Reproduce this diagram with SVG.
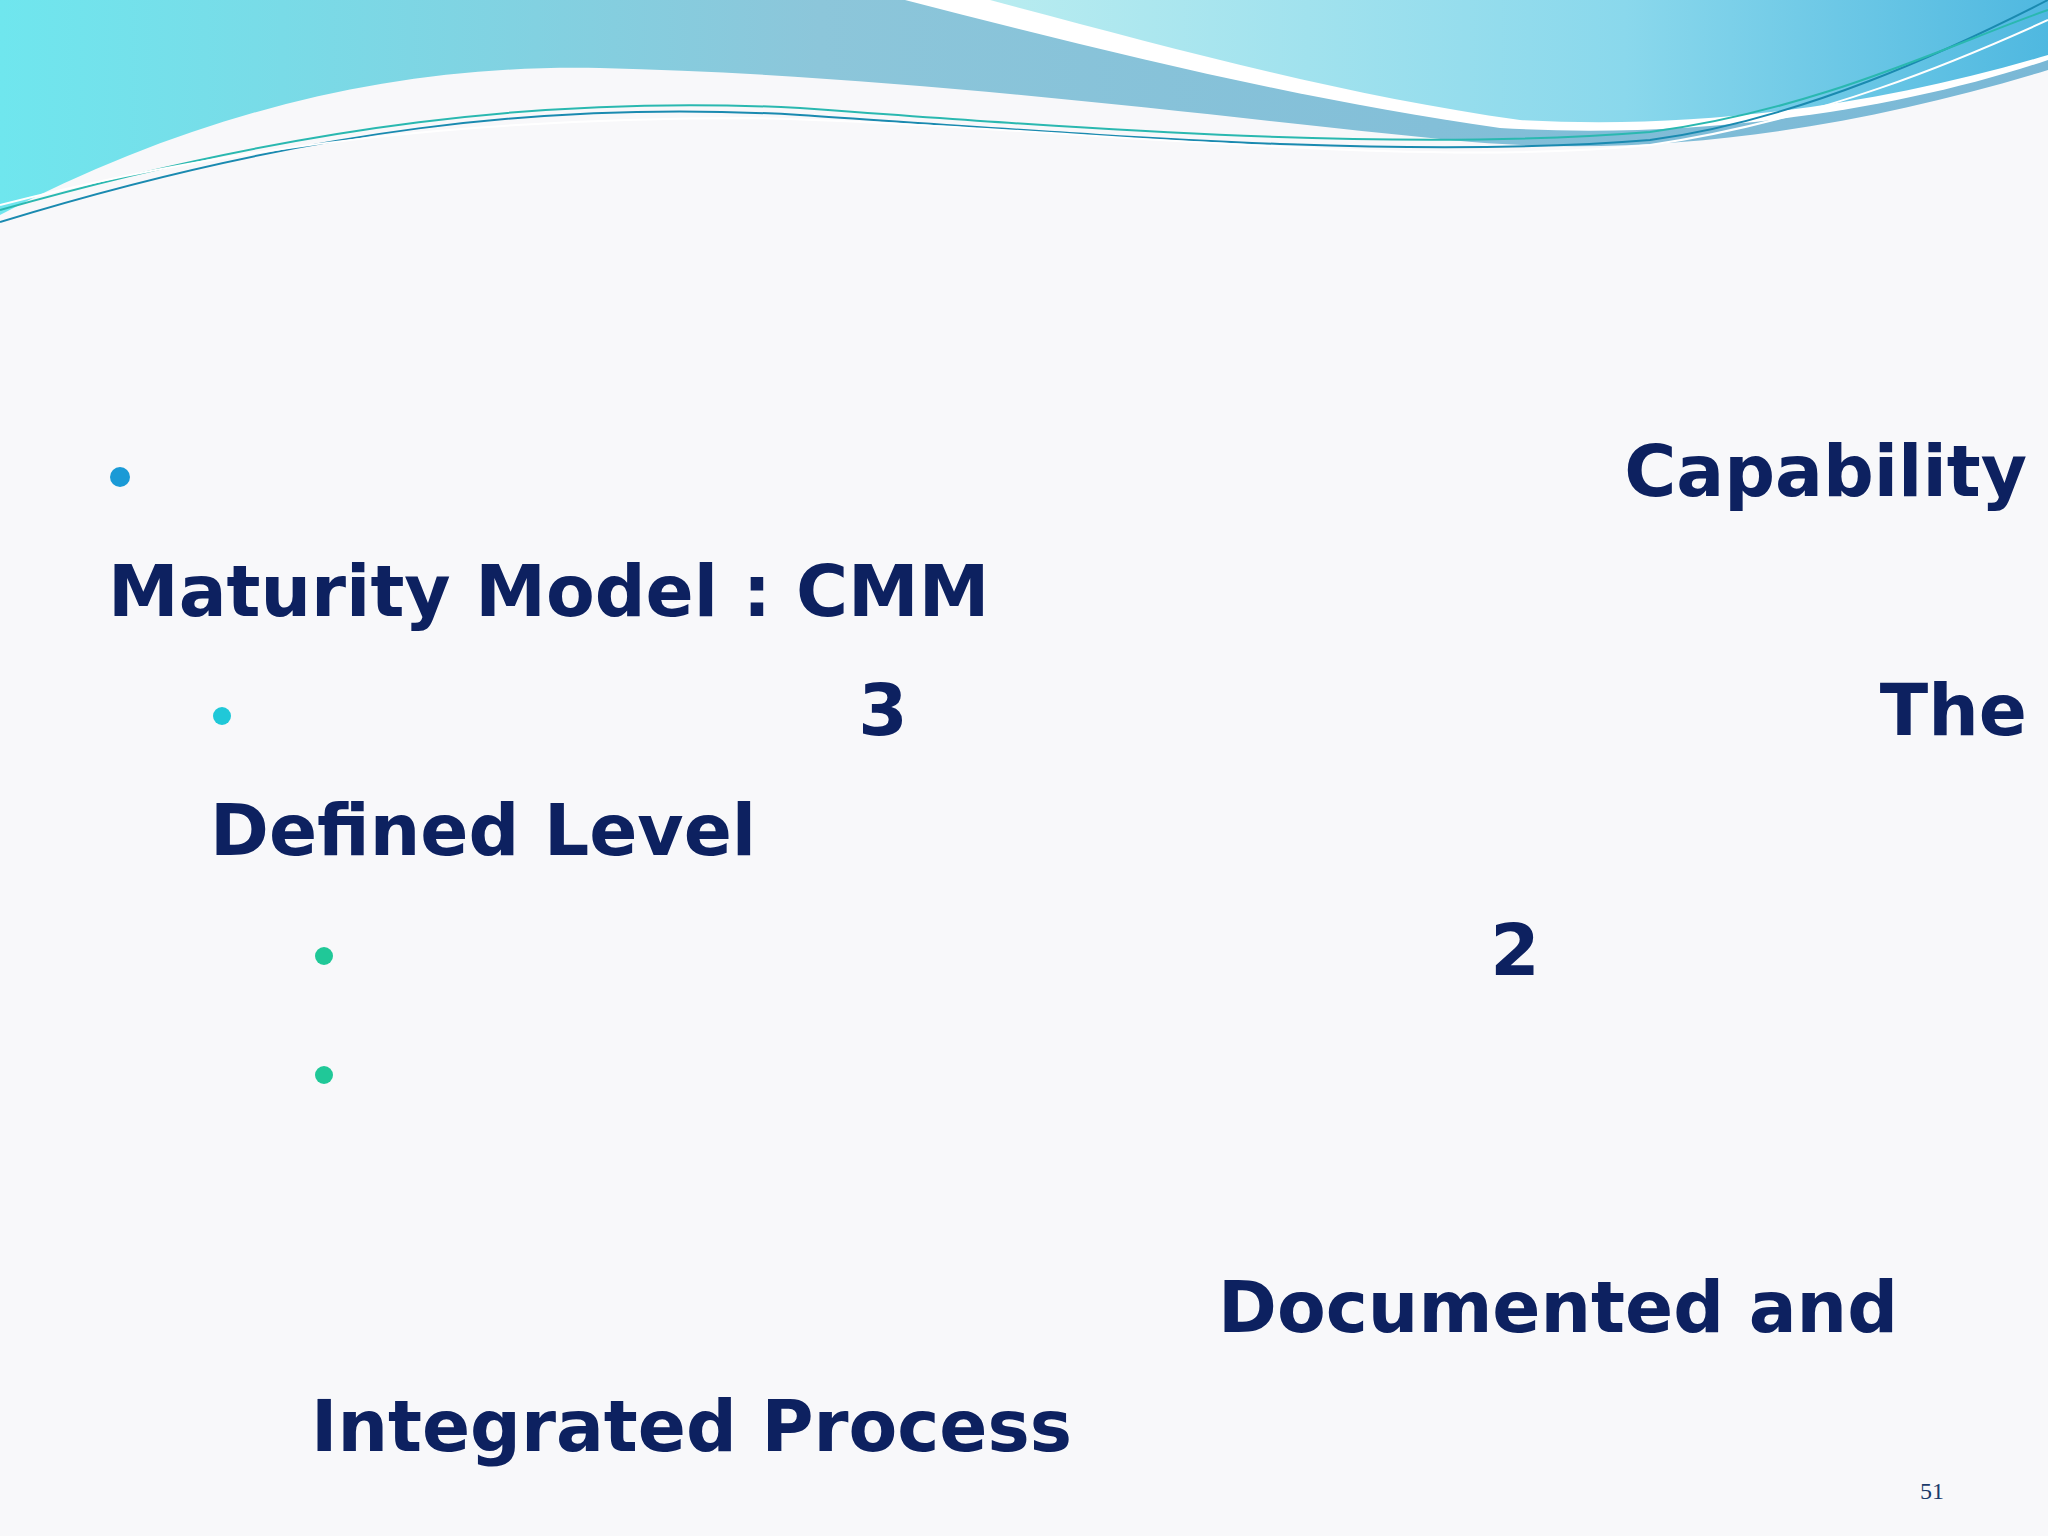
<svg xmlns="http://www.w3.org/2000/svg" width="2048" height="1536" viewBox="0 0 2048 1536">
<defs>
<linearGradient id="g1" x1="0" y1="0" x2="1" y2="0">
<stop offset="0" stop-color="#6fe6ee"/><stop offset="0.4" stop-color="#8cc6da"/><stop offset="1" stop-color="#7ab8d6"/>
</linearGradient>
<linearGradient id="g2" x1="0" y1="0" x2="1" y2="0">
<stop offset="0" stop-color="#b8ecf0"/><stop offset="0.6" stop-color="#8ad8ec"/><stop offset="1" stop-color="#4fb8e0"/>
</linearGradient>
<style>
.t{font-family:"DejaVu Sans",Verdana,sans-serif;font-weight:bold;font-size:71px;fill:#0d2160}
</style>
</defs>
<rect width="2048" height="1536" fill="#f8f8fa"/>
<g id="header">
<path d="M0,0 H2048 V70 C1850,130 1650,160 1450,140 C1200,115 900,75 600,68 C400,64 200,110 0,215 Z" fill="url(#g1)"/>
<path d="M905,0 H2048 V60 C1900,110 1700,140 1500,128 C1300,100 1100,50 905,0 Z" fill="#ffffff"/>
<path d="M990,0 H2048 V55 C1880,105 1700,130 1520,120 C1340,95 1160,45 990,0 Z" fill="url(#g2)"/>
<path d="M0,222 C300,130 550,100 800,115 C1100,135 1400,160 1650,140 C1800,120 1950,50 2048,0" fill="none" stroke="#1a8ab0" stroke-width="2"/>
<path d="M0,210 C300,125 550,95 800,108 C1100,130 1400,152 1650,132 C1820,110 1960,40 2048,10" fill="none" stroke="#2ab8b0" stroke-width="2"/>
<path d="M0,205 C250,140 500,118 750,118 C1050,125 1400,170 1650,145 C1820,120 1960,60 2048,20" fill="none" stroke="#ffffff" stroke-width="2"/>
</g>
<g id="bullets">
<circle cx="120" cy="477" r="10" fill="#1a9ad6"/>
<circle cx="222" cy="716" r="9" fill="#20c8d8"/>
<circle cx="324" cy="956" r="9" fill="#20c898"/>
<circle cx="324" cy="1075" r="9" fill="#20c898"/>
</g>
<g id="text">
<text class="t" x="2027" y="496" text-anchor="end">Capability</text>
<text class="t" x="108" y="616">Maturity Model : CMM</text>
<text class="t" x="883" y="735" text-anchor="middle">3</text>
<text class="t" x="2027" y="735" text-anchor="end">The</text>
<text class="t" x="210" y="855">Defined Level</text>
<text class="t" x="1515" y="975" text-anchor="middle">2</text>
<text class="t" x="1898" y="1332" text-anchor="end">Documented and</text>
<text class="t" x="311" y="1451">Integrated Process</text>
<text x="1932" y="1499" font-family="Liberation Serif,serif" font-size="24" fill="#1a3a6a" text-anchor="middle">51</text>
</g>
</svg>
